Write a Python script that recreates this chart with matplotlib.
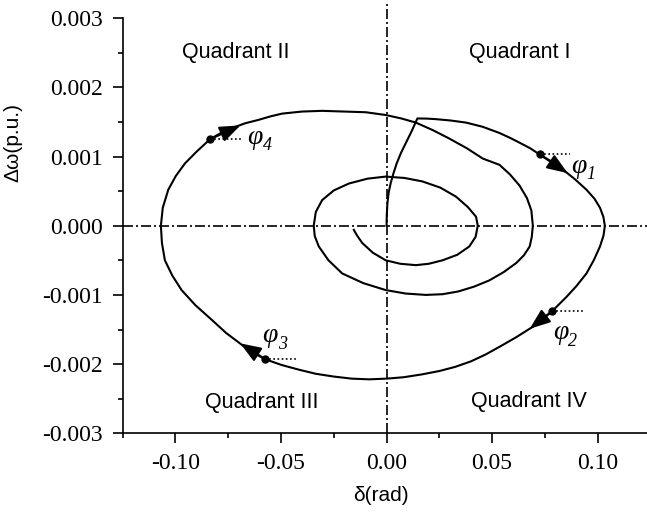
import matplotlib.pyplot as plt
from matplotlib.ticker import MultipleLocator, FormatStrFormatter

plt.rcParams['font.family'] = 'Liberation Sans'

# trajectory: rotor angle deviation (rad) vs speed deviation (p.u.)
delta = [0.0, 0.0001, 0.0004, 0.0010, 0.0020, 0.0032, 0.0048, 0.0068, 0.0092, 0.0118, 0.0139, 0.0146,
         0.0190, 0.0234, 0.0305, 0.0377, 0.0455, 0.0535, 0.0585, 0.0630, 0.0680, 0.0725, 0.0780,
         0.0836, 0.0893, 0.0947, 0.0985, 0.1011, 0.1027, 0.1034, 0.1028, 0.1011, 0.0983, 0.0947,
         0.0900, 0.0852, 0.0786, 0.0740, 0.0693, 0.0615, 0.0535, 0.0470, 0.0400, 0.0325, 0.0250,
         0.0165, 0.0080, 0.0, -0.0083, -0.0165, -0.0250, -0.0335, -0.0416, -0.0500, -0.0574,
         -0.0630, -0.0686, -0.0760, -0.0828, -0.0905, -0.0971, -0.1015, -0.1050, -0.1064, -0.1069,
         -0.1060, -0.1034, -0.0998, -0.0955, -0.0900, -0.0836, -0.0785, -0.0733, -0.0670, -0.0606,
         -0.0550, -0.0495, -0.0400, -0.0305, -0.0200, -0.0099, -0.0004, 0.0070, 0.0139, 0.0220,
         0.0297, 0.0380, 0.0456, 0.0535, 0.0585, 0.0630, 0.0665, 0.0686, 0.0693, 0.0688, 0.0678,
         0.0650, 0.0614, 0.0555, 0.0487, 0.0415, 0.0340, 0.0265, 0.0186, 0.0090, -0.0004, -0.0110,
         -0.0210, -0.0275, -0.0321, -0.0340, -0.0345, -0.0335, -0.0305, -0.0250, -0.0178, -0.0090,
         -0.0004, 0.0085, 0.0170, 0.0255, 0.0329, 0.0385, 0.0424, 0.0432, 0.0422, 0.0392, 0.0335,
         0.0265, 0.0200, 0.0139, 0.0065, -0.0004, -0.0065, -0.0115, -0.0140, -0.0155]
domega = [0.0, 0.00015, 0.00032, 0.00048, 0.00062, 0.00075, 0.00090, 0.00105, 0.00120, 0.00136, 0.00150, 0.00155,
          0.001548, 0.00154, 0.00152, 0.00149, 0.00143, 0.00134, 0.00127, 0.00120, 0.00112, 0.00103, 0.00093,
          0.00081, 0.00067, 0.00052, 0.00039, 0.00026, 0.00013, 0.0, -0.00014, -0.00030, -0.00049, -0.00069,
          -0.00087, -0.00103, -0.00123, -0.00135, -0.00146, -0.00161, -0.00175, -0.00186, -0.00196, -0.00204, -0.00210,
          -0.00215, -0.00219, -0.00221, -0.00222, -0.00221, -0.00218, -0.00214, -0.00208, -0.00201, -0.00193,
          -0.00184, -0.00172, -0.00155, -0.00136, -0.00115, -0.00093, -0.00072, -0.00050, -0.00025, 0.0,
          0.00026, 0.00052, 0.00072, 0.00090, 0.00107, 0.00125, 0.00134, 0.00141, 0.00148, 0.00153,
          0.00158, 0.00162, 0.00165, 0.00166, 0.00165, 0.00164, 0.00160, 0.00155, 0.00149, 0.00138,
          0.00126, 0.00112, 0.00097, 0.00088, 0.00074, 0.00058, 0.00040, 0.00022, 0.0, -0.00016, -0.00030,
          -0.00043, -0.00054, -0.00067, -0.00079, -0.00088, -0.00095, -0.00099, -0.00100, -0.00098, -0.00093, -0.00083,
          -0.00069, -0.00050, -0.00030, -0.00015, 0.0, 0.00020, 0.00037, 0.00051, 0.00061, 0.00068,
          0.00071, 0.00069, 0.00064, 0.00055, 0.00042, 0.00027, 0.00013, 0.0, -0.00016, -0.00030, -0.00042,
          -0.00050, -0.00055, -0.00057, -0.00055, -0.00050, -0.00039, -0.00025, -0.00014, -0.00006]

# marked points phi1..phi4 and the arrow tips just after them
phi_names = ['1', '2', '3', '4']
phi_delta = [0.0725, 0.0786, -0.0574, -0.0836]
phi_domega = [0.00103, -0.00123, -0.00193, 0.00125]
tip_delta = [0.0858, 0.0678, -0.0693, -0.0692]
tip_domega = [0.00076, -0.00149, -0.00170, 0.00145]

quad_names = ['Quadrant I', 'Quadrant II', 'Quadrant III', 'Quadrant IV']

fig = plt.figure(figsize=(6.47, 5.12), dpi=100)
ax = fig.add_axes([0.1896, 0.1537, 0.8157, 0.8109])

ax.set_xlim(-0.125, 0.125)
ax.set_ylim(-0.003, 0.003)

# reference axes through the origin
dd = (0, (6, 1.8, 1.2, 1.8))
ax.plot([-0.125, 0.125], [0, 0], color='black', lw=1.2, ls=dd, clip_on=False)
ax.plot([0, 0], [-0.003, 0.0032], color='black', lw=1.2, ls=dd, clip_on=False)

ax.plot(delta, domega, color='black', lw=1.5, solid_joinstyle='round')

label_pos = [(0.0873, 0.00086), (0.0787, -0.00155), (-0.0587, -0.00159), (-0.0659, 0.00128)]
for i in range(4):
    ax.plot(phi_delta[i], phi_domega[i], 'o', color='black', ms=5)
    ax.plot([phi_delta[i], phi_delta[i] + 0.0145], [phi_domega[i]] * 2,
            color='black', lw=1.2, ls=(0, (1, 1.5)))
    ax.annotate('', xy=(tip_delta[i], tip_domega[i]), xytext=(phi_delta[i], phi_domega[i]),
                arrowprops=dict(arrowstyle='-|>,head_length=0.42,head_width=0.16',
                                color='black', lw=1.5, mutation_scale=30,
                                shrinkA=0, shrinkB=0))
    lx, ly = label_pos[i]
    ax.text(lx, ly, 'φ', family='Liberation Serif', style='italic', fontsize=20,
            ha='left', va='center')
    ax.annotate(phi_names[i], xy=(lx, ly), xytext=(11, -6), textcoords='offset points',
                family='Liberation Serif', style='italic', fontsize=13,
                ha='left', va='center')

quad_pos = [(0.063, 0.00251), (-0.0713, 0.00251), (-0.0592, -0.00255), (0.0675, -0.00254)]
for name, (qx, qy) in zip(quad_names, quad_pos):
    ax.text(qx, qy, name, fontsize=15.5, ha='center', va='center')

for s in ['top', 'right']:
    ax.spines[s].set_visible(False)
for s in ['left', 'bottom']:
    ax.spines[s].set_linewidth(1.2)

ax.xaxis.set_major_locator(MultipleLocator(0.05))
ax.xaxis.set_minor_locator(MultipleLocator(0.025))
ax.yaxis.set_major_locator(MultipleLocator(0.001))
ax.yaxis.set_minor_locator(MultipleLocator(0.0005))
ax.xaxis.set_major_formatter(FormatStrFormatter('%.2f'))
ax.yaxis.set_major_formatter(FormatStrFormatter('%.3f'))
ax.tick_params(which='major', direction='out', length=7, width=1.2, pad=7)
ax.tick_params(which='minor', direction='out', length=3.6, width=1.2)
for lab in ax.get_xticklabels() + ax.get_yticklabels():
    lab.set_fontfamily('Liberation Serif')
    lab.set_fontsize(17)

ax.set_xlabel('δ(rad)', fontsize=15)
ax.set_ylabel('Δω(p.u.)', fontsize=15)
ax.xaxis.set_label_coords(0.489, -0.127)
ax.yaxis.set_label_coords(-0.19, 0.7)

fig.savefig('out.png', dpi=100)
